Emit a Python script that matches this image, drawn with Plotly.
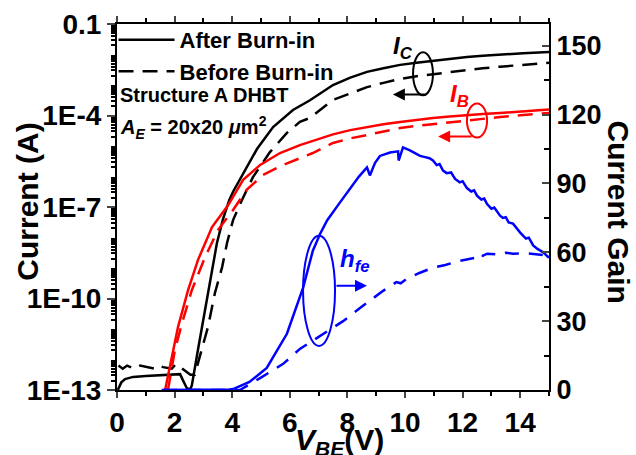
import numpy as np
import plotly.graph_objects as go

# ---------------- data ----------------
# Collector current, after burn-in (V_BE in V, log10(I) in A)
ic_after_v = [0.03, 0.15, 0.28, 0.56, 1.0, 1.5, 2.0, 2.19, 2.3, 2.43, 2.55, 2.6, 2.81, 3.06, 3.3, 3.47,
              3.68, 3.9, 4.03, 4.38, 4.86, 5.42, 6.11, 6.7, 7.5, 8.1, 8.68, 9.25, 9.83, 10.4, 10.97,
              11.55, 12.15, 12.7, 13.3, 14.1, 15.0]
ic_after_log = [-13.0, -12.75, -12.64, -12.57, -12.54, -12.52, -12.5, -12.48, -12.7, -12.95, -12.97, -12.84,
                -11.69, -10.38, -9.07, -8.18, -7.4, -6.77, -6.5, -5.9, -5.1, -4.38, -3.82, -3.5, -3.0,
                -2.76, -2.57, -2.45, -2.34, -2.27, -2.2, -2.14, -2.08, -2.04, -2.0, -1.96, -1.92]

# Collector current, before burn-in
ic_before_v = [0.05, 0.2, 0.35, 0.6, 0.8, 1.0, 1.3, 1.45, 1.6, 1.9, 2.05, 2.2, 2.4, 2.55, 2.7, 2.81,
               3.16, 3.4, 3.65, 3.82, 4.03, 4.34, 4.72, 5.31, 5.9, 6.35, 6.7, 7.5, 8.1, 8.68, 9.25,
               9.83, 10.4, 10.97, 11.55, 12.15, 12.7, 13.3, 14.1, 15.0]
ic_before_log = [-12.2, -12.3, -12.2, -12.3, -12.2, -12.25, -12.3, -12.2, -12.25, -12.3, -12.15, -12.25,
                 -12.4, -12.5, -12.5, -12.11, -10.93, -9.82, -8.97, -8.18, -7.43, -6.77, -6.02, -5.2,
                 -4.57, -4.21, -4.08, -3.49, -3.27, -3.07, -2.93, -2.8, -2.71, -2.64, -2.57, -2.51,
                 -2.45, -2.4, -2.33, -2.27]

# Base current, after burn-in
ib_after_v = [1.67, 1.9, 2.12, 2.47, 2.81, 3.3, 3.58, 3.85, 4.03, 4.38, 4.97, 5.66, 6.35, 6.98, 7.5,
              8.1, 8.68, 9.25, 9.83, 10.4, 10.97, 11.55, 12.15, 12.7, 13.3, 14.1, 15.0]
ib_after_log = [-13.0, -11.92, -10.93, -9.72, -8.74, -7.66, -7.3, -6.95, -6.67, -6.11, -5.62, -5.23,
                -4.97, -4.77, -4.62, -4.48, -4.38, -4.29, -4.21, -4.14, -4.08, -4.03, -3.98, -3.95,
                -3.92, -3.86, -3.8]

# Base current, before burn-in
ib_before_v = [1.77, 2.01, 2.26, 2.6, 3.06, 3.51, 4.03, 4.5, 5.07, 5.77, 6.35, 6.8, 7.5, 8.1, 8.68,
               9.25, 9.83, 10.4, 10.97, 11.55, 12.15, 12.7, 13.3, 14.1, 15.0]
ib_before_log = [-13.0, -11.69, -10.8, -9.72, -8.64, -7.75, -7.1, -6.44, -5.95, -5.62, -5.4, -5.23,
                 -4.9, -4.75, -4.64, -4.52, -4.41, -4.34, -4.28, -4.21, -4.15, -4.1, -4.05, -3.98, -3.92]

# Current gain h_fe, after burn-in
hfe_after_v = [1.55, 2.5, 3.5, 3.9, 4.03, 4.6, 5.2, 5.9, 6.46, 6.8, 7.05, 7.3, 7.7, 8.1, 8.4, 8.68,
               8.78, 8.96, 9.13, 9.48, 9.76, 9.78, 9.93, 10.17, 10.52, 10.7, 10.85, 10.97, 11.1, 11.2,
               11.32, 11.45, 11.6, 11.74, 11.9, 12.0, 12.15, 12.3, 12.4, 12.5, 12.65, 12.75, 12.85,
               13.0, 13.1, 13.3, 13.4, 13.5, 13.6, 13.75, 13.9, 14.0, 14.2, 14.3, 14.45, 14.6, 14.8, 15.0]
hfe_after = [0, 0, 0, 0.2, 0.4, 3.5, 9.6, 24.5, 44.5, 60.7, 68, 74, 81, 88, 93, 97,
             93.5, 99, 102, 103.5, 104, 100, 105.7, 104.4, 102, 101.5, 101, 100, 98, 98.5,
             95.6, 94.5, 94.8, 92, 90.5, 91, 88, 86.5, 87, 84.7, 83, 83.4, 81,
             79, 79.5, 76, 75, 75.3, 73, 72.5, 70, 68.6, 66, 66.4, 63, 61.5, 60, 57.6]

# Current gain h_fe, before burn-in
hfe_before_v = [1.6, 3.0, 4.27, 4.97, 5.77, 6.35, 7.05, 7.85, 8.54, 9.24, 9.7, 9.85, 10.07, 10.5,
                10.97, 11.4, 11.9, 12.4, 12.6, 12.7, 12.85, 13.3, 13.5, 13.75, 14.2, 14.5, 15.0]
hfe_before = [0, 0, 0, 5.2, 11.4, 17.9, 23.6, 30, 36.7, 43.2, 47, 46.5, 48.5, 51,
              53.3, 54.5, 56.3, 57.5, 59.5, 58.5, 59.4, 59, 59.8, 59.4, 59.6, 59.2, 58.5]

current_tickvals_exp = [-1, -4, -7, -10, -13]
current_ticktext = ["0.1", "1E-4", "1E-7", "1E-10", "1E-13"]
gain_tickvals = [0, 30, 60, 90, 120, 150]
x_tickvals = [0, 2, 4, 6, 8, 10, 12, 14]

# ---------------- styling ----------------
FONT = "Liberation Sans, Arial"
RED = "#ff0000"
BLUE = "#0000ff"
DASH_BLACK = "15px,9px"
DASH_BLUE = "14px,10px"


def p10(a):
    return list(10.0 ** np.array(a))


fig = go.Figure()

fig.add_trace(go.Scatter(x=ic_after_v, y=p10(ic_after_log), mode="lines", name="After Burn-in",
                         line=dict(color="black", width=2.5), legendgroup="a"))
fig.add_trace(go.Scatter(x=ic_before_v, y=p10(ic_before_log), mode="lines", name="Before Burn-in",
                         line=dict(color="black", width=2.5, dash=DASH_BLACK), legendgroup="b"))
fig.add_trace(go.Scatter(x=ib_after_v, y=p10(ib_after_log), mode="lines", showlegend=False,
                         line=dict(color=RED, width=2.5)))
fig.add_trace(go.Scatter(x=ib_before_v, y=p10(ib_before_log), mode="lines", showlegend=False,
                         line=dict(color=RED, width=2.5, dash=DASH_BLACK)))
fig.add_trace(go.Scatter(x=hfe_after_v, y=hfe_after, mode="lines", showlegend=False, yaxis="y2",
                         line=dict(color=BLUE, width=2.5)))
fig.add_trace(go.Scatter(x=hfe_before_v, y=hfe_before, mode="lines", showlegend=False, yaxis="y2",
                         line=dict(color=BLUE, width=2.5, dash=DASH_BLUE)))

# log-axis ticks
label_vals = [10.0 ** d for d in current_tickvals_exp]
decade_vals = [10.0 ** d for d in range(-13, 0)]
minor_vals = [k * 10.0 ** d for d in range(-13, -1) for k in range(2, 10)]

fig.update_layout(
    width=636, height=455,
    margin=dict(l=117, r=87, t=24, b=65),
    paper_bgcolor="white", plot_bgcolor="white",
    font=dict(family=FONT, size=20, color="black", weight="bold"),
    showlegend=True,
    legend=dict(x=-0.008, y=1.014, xanchor="left", yanchor="top", bgcolor="rgba(0,0,0,0)",
                font=dict(family=FONT, size=22, color="black", weight="bold"),
                itemwidth=56, tracegroupgap=6, traceorder="normal"),
    xaxis=dict(range=[0, 15], tickvals=x_tickvals, ticks="outside", ticklen=6, tickwidth=2,
               showline=True, linecolor="black", linewidth=2, mirror="ticks", showgrid=False,
               zeroline=False, automargin=False,
               tickfont=dict(family=FONT, size=28, weight="bold"),
               minor=dict(dtick=1, ticks="outside", ticklen=4, tickwidth=2, tickcolor="black")),
    yaxis=dict(type="log", range=[-13, -1], tickmode="array", tickvals=label_vals,
               ticktext=current_ticktext, automargin=False,
               ticks="outside", ticklen=8, tickwidth=2, showline=True, linecolor="black", linewidth=2,
               showgrid=False, zeroline=False, tickfont=dict(family=FONT, size=28, weight="bold"),
               minor=dict(tickmode="array", tickvals=minor_vals, ticks="outside", ticklen=4,
                          tickwidth=1.5, tickcolor="black")),
    yaxis3=dict(type="log", range=[-13, -1], overlaying="y", side="left", anchor="x",
                tickmode="array", tickvals=decade_vals, showticklabels=False, ticks="outside",
                ticklen=8, tickwidth=2, tickcolor="black", showline=False, showgrid=False,
                zeroline=False, automargin=False),
    yaxis2=dict(overlaying="y", side="right", range=[0, 159.5], tickvals=gain_tickvals,
                ticks="inside", ticklen=7, tickwidth=2, showline=True, linecolor="black", linewidth=2,
                showgrid=False, zeroline=False, automargin=False,
                tickfont=dict(family=FONT, size=27, weight="bold"),
                minor=dict(dtick=15, ticks="inside", ticklen=5, tickwidth=2, tickcolor="black")),
)

# axis titles placed as text
fig.add_annotation(text="<i>V</i><sub><i>BE</i></sub>(V)", xref="paper", yref="paper",
                   x=0.514, y=-0.085, xanchor="center", yanchor="top", showarrow=False,
                   font=dict(family=FONT, size=30, weight="bold"))
fig.add_annotation(text="Current (A)", xref="paper", yref="paper", x=-0.208, y=0.515,
                   xanchor="center", yanchor="middle",
                   textangle=-90, showarrow=False, font=dict(family=FONT, size=30, weight="bold"))
fig.add_annotation(text="Current Gain", xref="paper", yref="paper", x=1.162, y=0.485,
                   xanchor="center", yanchor="middle",
                   textangle=90, showarrow=False, font=dict(family=FONT, size=30, weight="bold"))

# descriptive text
fig.add_annotation(text="Structure A DHBT", xref="paper", yref="paper", x=0.002, y=0.806,
                   xanchor="left", yanchor="middle", showarrow=False,
                   font=dict(family=FONT, size=20, weight="bold"))
fig.add_annotation(text="<i>A</i><sub><i>E</i></sub> = 20x20 <i>μ</i>m<sup>2</sup>", xref="paper",
                   yref="paper", x=0.002, y=0.716, xanchor="left", yanchor="middle", showarrow=False,
                   font=dict(family=FONT, size=20, weight="bold"))

# curve labels
fig.add_annotation(text="<i>I</i><sub><i>C</i></sub>", x=9.93, y=149.3, yref="y2", showarrow=False,
                   font=dict(family=FONT, size=24, color="black", weight="bold"))
fig.add_annotation(text="<i>I</i><sub><i>B</i></sub>", x=11.88, y=128.4, yref="y2", showarrow=False,
                   font=dict(family=FONT, size=24, color=RED, weight="bold"))
fig.add_annotation(text="<i>h</i><sub><i>fe</i></sub>", x=8.26, y=56.3, yref="y2", showarrow=False,
                   font=dict(family=FONT, size=24, color=BLUE, weight="bold"))

# ellipses marking the curve groups
fig.add_shape(type="circle", xref="x", yref="y2", x0=10.28, x1=10.97, y0=128.4, y1=147.2,
              line=dict(color="black", width=2))
fig.add_shape(type="circle", xref="x", yref="y2", x0=12.15, x1=12.85, y0=110.0, y1=124.9,
              line=dict(color=RED, width=2))
fig.add_shape(type="circle", xref="x", yref="y2", x0=6.46, x1=7.57, y0=19.2, y1=67.2,
              line=dict(color=BLUE, width=2))

# arrows pointing to the relevant axis
fig.add_annotation(text="", x=9.58, y=128.8, yref="y2", ax=34, ay=0, showarrow=True,
                   arrowhead=2, arrowsize=1.2, arrowwidth=2, arrowcolor="black", standoff=0)
fig.add_annotation(text="", x=11.15, y=110.5, yref="y2", ax=35, ay=0, showarrow=True,
                   arrowhead=2, arrowsize=1.2, arrowwidth=2, arrowcolor=RED, standoff=0)
fig.add_annotation(text="", x=8.68, y=45.4, yref="y2", ax=-32, ay=0, showarrow=True,
                   arrowhead=2, arrowsize=1.2, arrowwidth=2, arrowcolor=BLUE, standoff=0)

fig.write_html("out.html")
